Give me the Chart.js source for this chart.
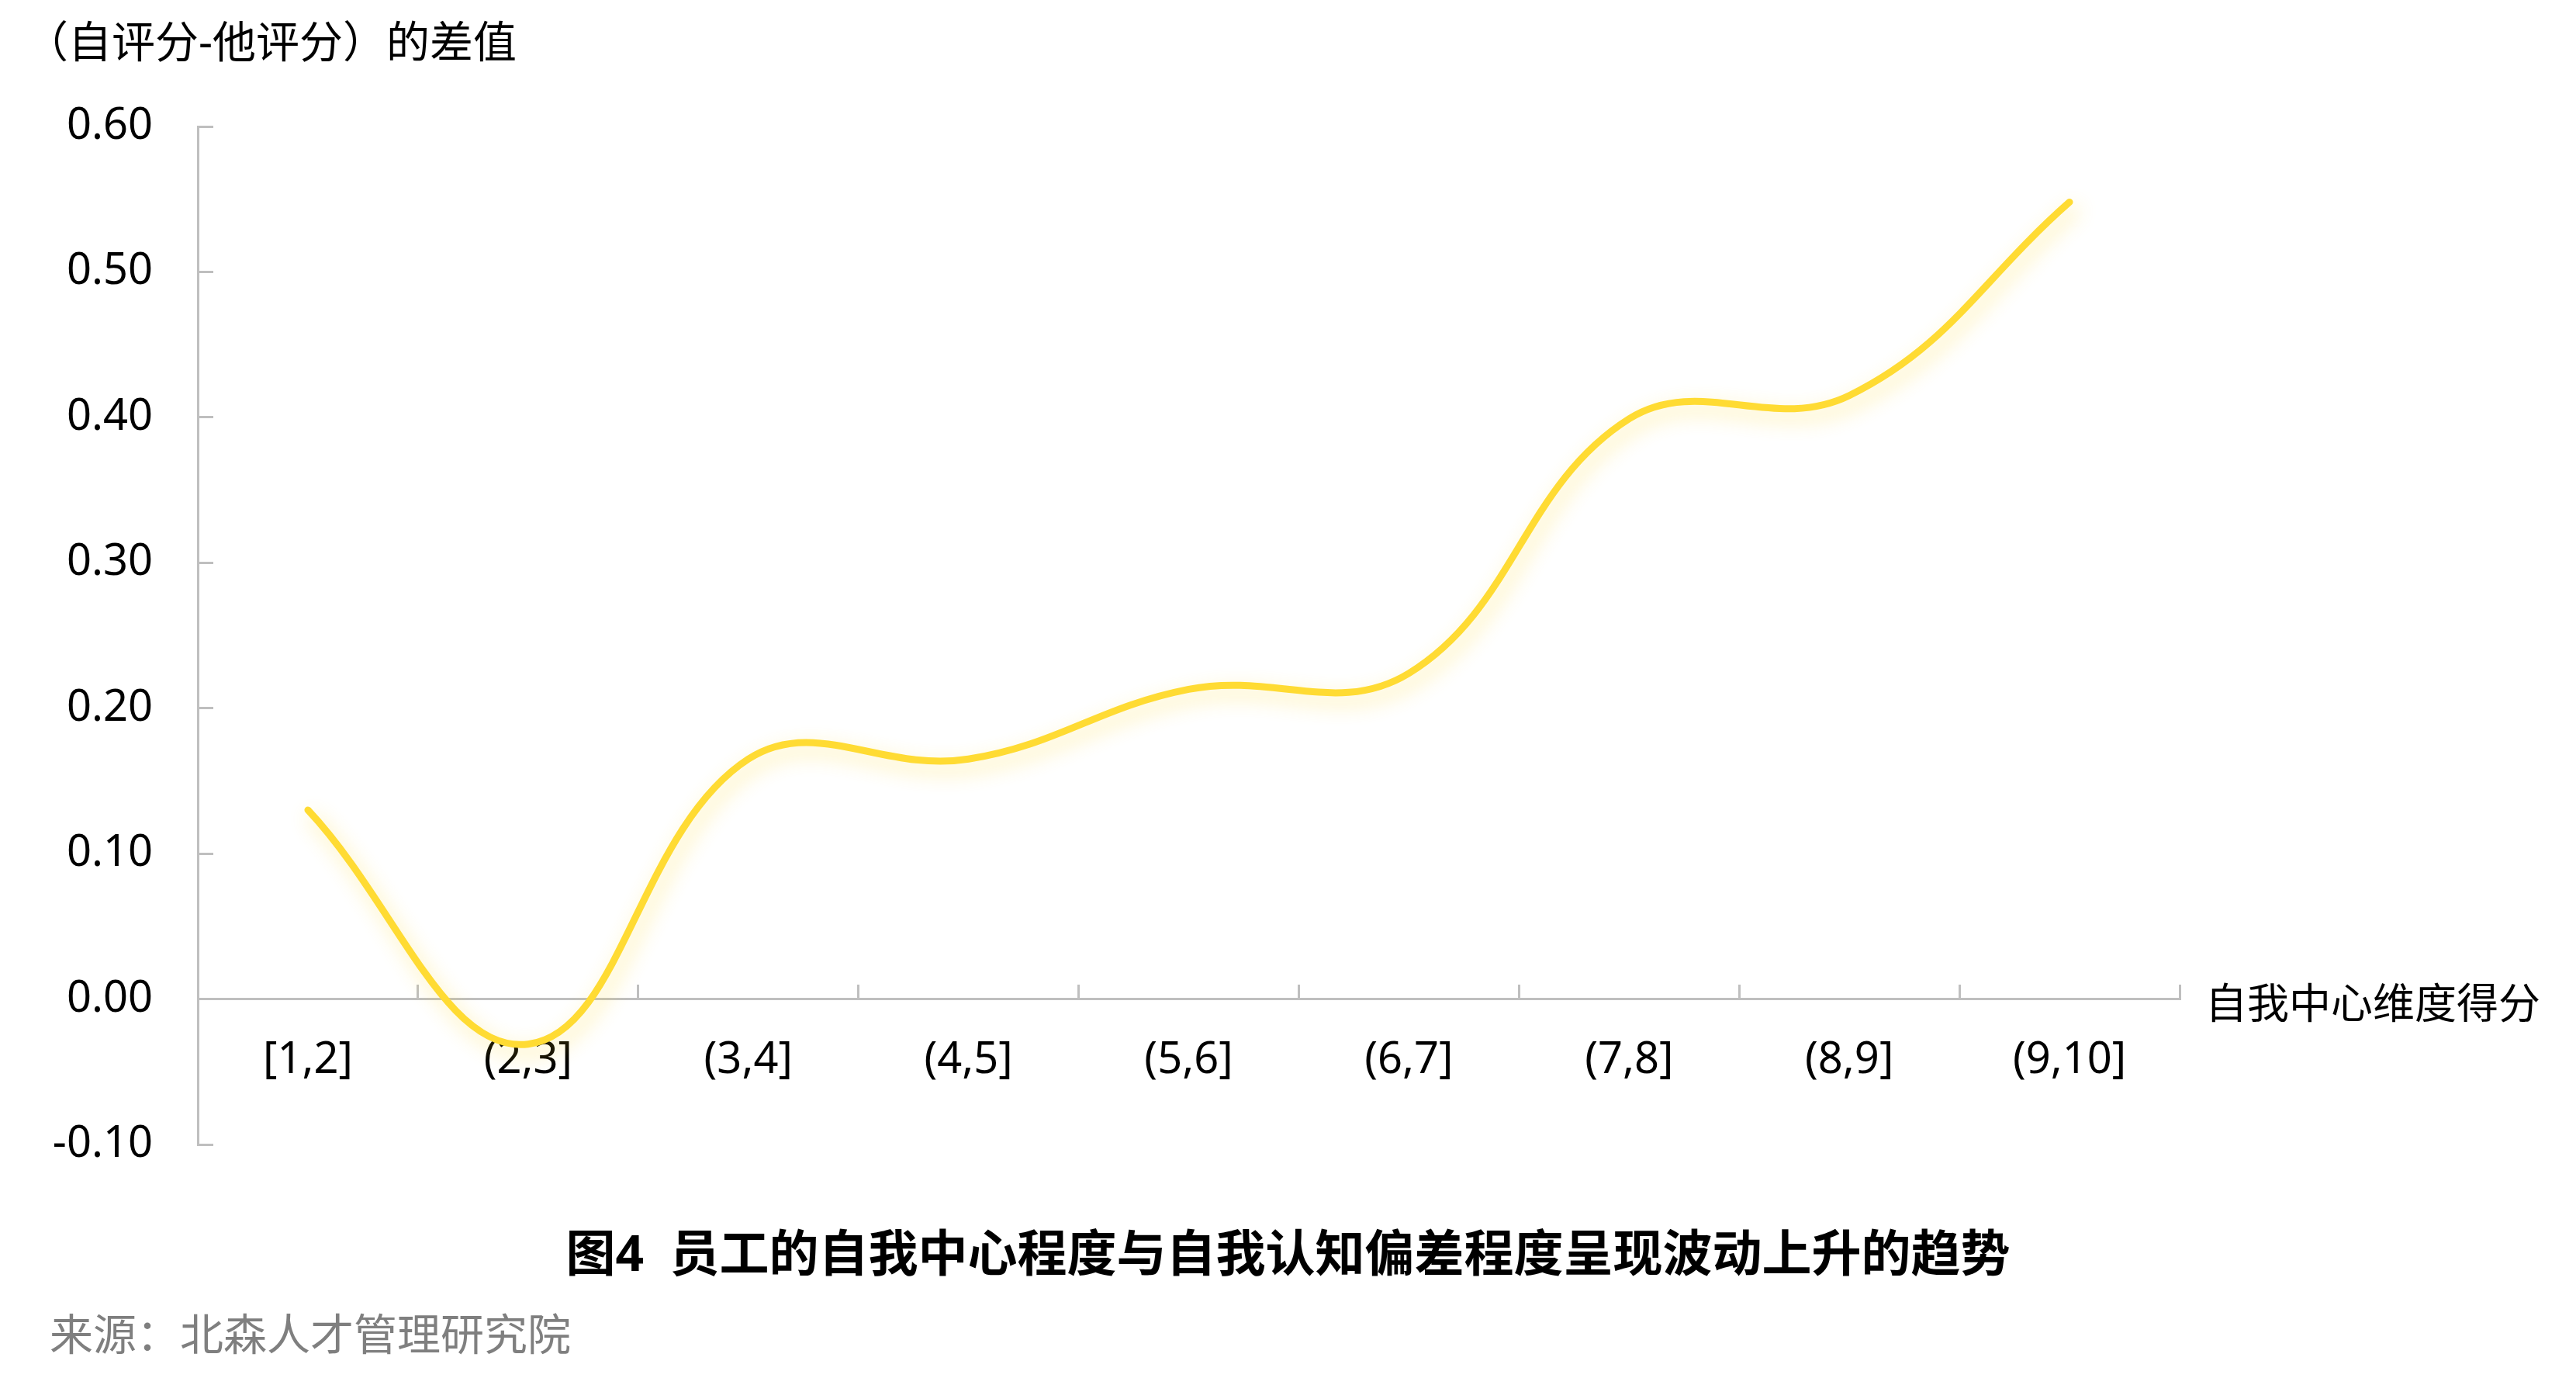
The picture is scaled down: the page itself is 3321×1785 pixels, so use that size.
<!DOCTYPE html>
<html>
<head>
<meta charset="utf-8">
<script src="https://cdn.jsdelivr.net/npm/chart.js@4"></script>
<style>
  html, body { margin: 0; padding: 0; background: #fff; }
  body { width: 3321px; height: 1785px; position: relative; overflow: hidden; }
  #chart { position: absolute; left: 0; top: 0; }
  .txt { position: absolute; white-space: pre; line-height: 1; font-family: "Noto Sans", "Noto Sans CJK SC", sans-serif; color: #000; }
</style>
</head>
<body>
<canvas id="chart" width="3321" height="1785"></canvas>
<div class="txt" style="left:32px; top:24px; font-size:56px;">（自评分-他评分）的差值</div>
<div class="txt" style="left:2843px; top:1265px; font-size:54px;">自我中心维度得分</div>
<div class="txt" style="left:0; width:3321px; text-align:center; top:1582px; font-size:64px; font-weight:700;">图4  员工的自我中心程度与自我认知偏差程度呈现波动上升的趋势</div>
<div class="txt" style="left:64px; top:1690px; font-size:56px; color:#7f7f7f;">来源：北森人才管理研究院</div>
<script>
// score buckets on the x axis
const categories = ["[1,2]", "(2,3]", "(3,4]", "(4,5]", "(5,6]", "(6,7]", "(7,8]", "(8,9]", "(9,10]"];
// self score minus others' score
const diffValues = [0.13, -0.031, 0.165, 0.165, 0.213, 0.224, 0.399, 0.415, 0.548];
const yMin = -0.1;
const yMax = 0.6;
const yStep = 0.1;

const axisGrey = "#bfbfbf";
const lineYellow = "#FFDB33";

// soft yellow glow under the line
const glow = {
  id: "glow",
  beforeDatasetDraw(chart) {
    const c = chart.ctx;
    c.save();
    c.shadowColor = "rgba(255, 215, 40, 0.45)";
    c.shadowBlur = 26;
    c.shadowOffsetX = 6;
    c.shadowOffsetY = 10;
  },
  afterDatasetDraw(chart) {
    chart.ctx.restore();
  }
};

const fmt = (v) => {
  const r = Math.round(v * 100) / 100;
  return (r === 0 ? 0 : r).toFixed(2);
};

const ctx = document.getElementById("chart").getContext("2d");
new Chart(ctx, {
  type: "line",
  data: {
    labels: categories,
    datasets: [{
      data: diffValues,
      borderColor: lineYellow,
      borderWidth: 9,
      borderCapStyle: "round",
      tension: 0.4,
      pointRadius: 0,
      fill: false
    }]
  },
  options: {
    responsive: false,
    devicePixelRatio: 1,
    animation: false,
    layout: { padding: { left: 0, top: 163, right: 511, bottom: 310 } },
    plugins: { legend: { display: false }, tooltip: { enabled: false } },
    scales: {
      x: {
        position: { y: 0 },
        offset: true,
        grid: {
          offset: true,
          drawOnChartArea: false,
          drawTicks: true,
          tickLength: -20,
          color: axisGrey,
          lineWidth: 3
        },
        border: { display: true, color: axisGrey, width: 3 },
        ticks: {
          padding: 66,
          color: "#000",
          font: { family: "'Noto Sans', 'Noto Sans CJK SC'", size: 56 },
          maxRotation: 0,
          autoSkip: false
        },
        afterFit(scale) { scale.height = 0; }
      },
      y: {
        min: yMin,
        max: yMax,
        grid: {
          drawOnChartArea: false,
          drawTicks: true,
          tickLength: -20,
          color: axisGrey,
          lineWidth: 3
        },
        border: { display: true, color: axisGrey, width: 3 },
        ticks: {
          stepSize: yStep,
          padding: 78,
          color: "#000",
          font: { family: "'Noto Sans', 'Noto Sans CJK SC'", size: 56 },
          callback: (v) => fmt(v)
        },
        afterFit(scale) { scale.width = 255; }
      }
    }
  },
  plugins: [glow]
});
</script>
</body>
</html>
